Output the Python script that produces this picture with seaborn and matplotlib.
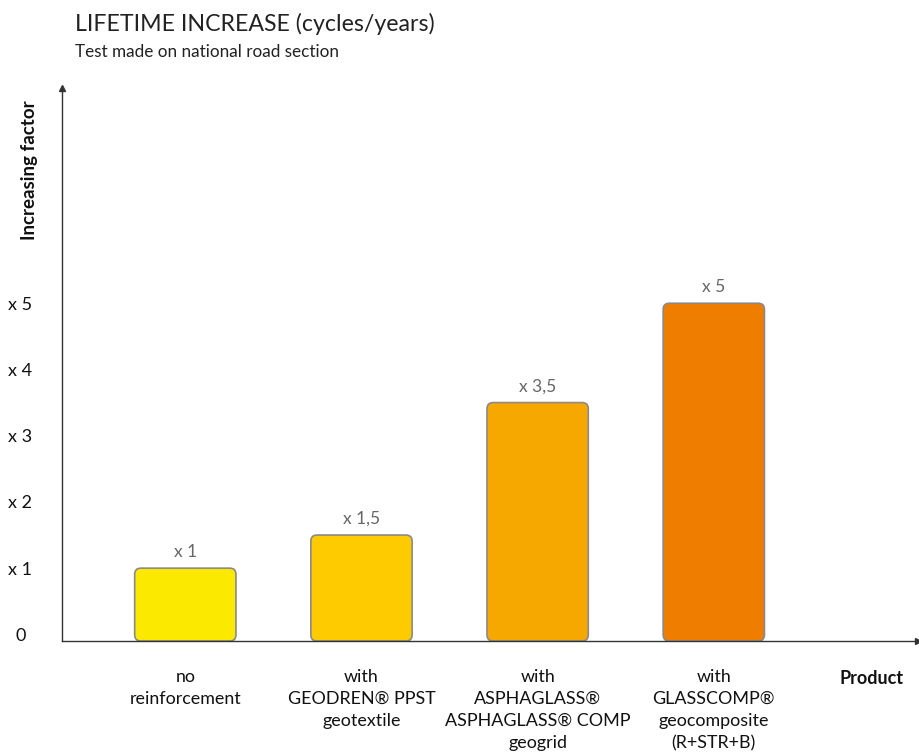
import matplotlib
matplotlib.use('AGG')
import matplotlib.pyplot as plt
from matplotlib.patches import FancyBboxPatch
import seaborn as sns

products = [
    "no\nreinforcement",
    "with\nGEODREN® PPST\ngeotextile",
    "with\nASPHAGLASS®\nASPHAGLASS® COMP\ngeogrid",
    "with\nGLASSCOMP®\ngeocomposite\n(R+STR+B)",
]
factors = [1, 1.5, 3.5, 5]
factor_labels = ["x 1", "x 1,5", "x 3,5", "x 5"]
ytick_values = [0, 1, 2, 3, 4, 5]
ytick_labels = ["0", "x 1", "x 2", "x 3", "x 4", "x 5"]
bar_colors = ["#FCE900", "#FECB00", "#F6A800", "#EF7D00"]

sns.set_theme(style="white")
plt.rcParams['font.family'] = ['Lato', 'DejaVu Sans']

fig = plt.figure(figsize=(9.2, 7.56), dpi=100)
ax = fig.add_axes([62 / 920, 1 - 641 / 756, 1 - 62 / 920 - 0.002, (641 - 88) / 756])

sns.barplot(x=products, y=factors, hue=products, palette=bar_colors,
            legend=False, width=0.575, ax=ax)

ymin, ymax = -0.1, 8.25
ax.set_xlim(-0.70, 4.16)
ax.set_ylim(ymin, ymax)

# swap the plain bars for rounded ones, running down to the axis line
aspect = 176 / 66.2
bars = list(ax.patches)
for i, patch in enumerate(bars):
    x0, w, h = patch.get_x(), patch.get_width(), patch.get_height()
    patch.remove()
    box = FancyBboxPatch((x0, ymin), w, h - ymin,
                         boxstyle="round,pad=0,rounding_size=0.035",
                         mutation_aspect=aspect, facecolor=bar_colors[i],
                         edgecolor="#8a8a8a", linewidth=1.2, zorder=2)
    ax.add_patch(box)
    ax.text(x0 + w / 2, h + 0.12, factor_labels[i],
            ha="center", va="bottom", fontsize=12.5, color="#666666")

ax.set_yticks(ytick_values)
ax.set_yticklabels(ytick_labels, fontsize=13, color="#111111", ha="center")
ax.tick_params(axis="y", length=0, pad=30)
ax.set_xticks(range(len(products)))
ax.set_xticklabels(products, fontsize=12.9, color="#111111", linespacing=1.48, va="top")
ax.tick_params(axis="x", length=0, pad=20)
ax.set_xlabel("")
ax.set_ylabel("")

for side in ["top", "right"]:
    ax.spines[side].set_visible(False)
for side in ["left", "bottom"]:
    ax.spines[side].set_color("#333333")
    ax.spines[side].set_linewidth(1.0)

# arrow heads at the end of both axes
ax.plot(1, 0, ">", color="#333333", markersize=4, transform=ax.transAxes, clip_on=False)
ax.plot(0, 1, "^", color="#333333", markersize=4, transform=ax.transAxes, clip_on=False)

fig.text(30 / 920, 1 - 170 / 756, "Increasing factor", rotation=90, ha="center",
         va="center", fontsize=13.5, fontweight="bold", color="#111111")
fig.text(872 / 920, 1 - 678 / 756, "Product", ha="center", va="center",
         fontsize=13, fontweight="bold", color="#111111")
fig.text(75 / 920, 1 - 24 / 756, "LIFETIME INCREASE (cycles/years)", ha="left",
         va="center", fontsize=16.7, color="#222222")
fig.text(75 / 920, 1 - 52 / 756, "Test made on national road section", ha="left",
         va="center", fontsize=12.3, color="#222222")

fig.savefig("out.png", dpi=100)
